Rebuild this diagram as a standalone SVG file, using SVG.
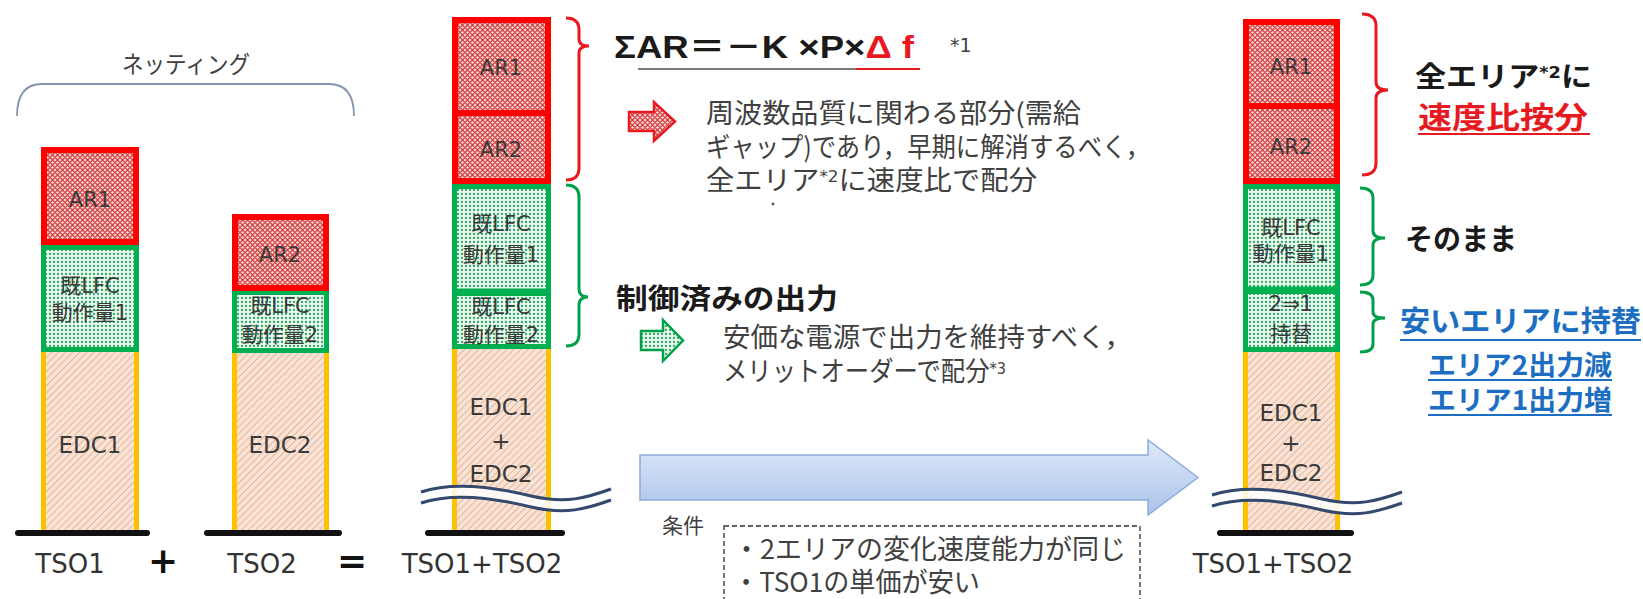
<svg xmlns="http://www.w3.org/2000/svg" width="1643" height="599" viewBox="0 0 1643 599">
<style>
.bx{font-family:"DejaVu Sans","Noto Sans CJK JP",sans-serif;fill:#3a3a3a;text-anchor:middle}
.jp{font-family:"Noto Sans CJK JP",sans-serif;fill:#404040}
.jb{font-family:"Noto Sans CJK JP",sans-serif;font-weight:bold;fill:#1a1a1a}
.fm{font-family:"Liberation Sans","Noto Sans CJK JP",sans-serif;font-weight:bold;fill:#1a1a1a}
.sm{font-family:"DejaVu Sans",sans-serif;fill:#404040;font-size:16px}
.sup{font-family:"DejaVu Sans",sans-serif}
.lb{font-family:"DejaVu Sans","Noto Sans CJK JP",sans-serif;fill:#333;font-size:26px;text-anchor:middle}
.ar{stroke:#f00;stroke-width:6;fill:url(#pAR)}
.lfc{stroke:#00b050;stroke-width:5;fill:url(#pLFC)}
.edc{fill:url(#pEDC)}
.ysd{stroke:#ffc000;stroke-width:5}
.base{stroke:#111;stroke-width:6;stroke-linecap:round}
.brR{fill:none;stroke:#e8191f;stroke-width:3}
.brG{fill:none;stroke:#00a04a;stroke-width:3}
.wvw{fill:none;stroke:#fff;stroke-width:9;opacity:0.85}
.wvl{fill:none;stroke:#34496e;stroke-width:3}
.blue{font-family:"Noto Sans CJK JP",sans-serif;font-weight:bold;fill:#1b6ec2}
.ulB{stroke:#1b6ec2;stroke-width:2}
</style>
<defs>
<pattern id="pAR" width="5" height="5" patternUnits="userSpaceOnUse">
<rect width="5" height="5" fill="#f9d2d2"/>
<path d="M0 2.5 L2.5 0 L5 2.5 L2.5 5 Z" fill="none" stroke="#d23a3a" stroke-width="1.1"/>
</pattern>
<pattern id="pLFC" width="4" height="4" patternUnits="userSpaceOnUse">
<rect width="4" height="4" fill="#eaf8ef"/>
<circle cx="2" cy="2" r="1.15" fill="#2ea862"/>
</pattern>
<pattern id="pEDC" width="5" height="5" patternUnits="userSpaceOnUse" patternTransform="rotate(45)">
<rect width="5" height="5" fill="#fae3d5"/>
<line x1="0" y1="0" x2="0" y2="5" stroke="#d09876" stroke-width="1.2"/>
</pattern>
<linearGradient id="gBlue" x1="0" y1="0" x2="0" y2="1">
<stop offset="0" stop-color="#dfe9f8"/>
<stop offset="1" stop-color="#a9c3ea"/>
</linearGradient>
<path id="wave" d="M0,8 C30,-2 70,2 110,12 C145,20 165,14 190,5"/>
</defs>

<g id="netting">
<path d="M17,116 Q17,84 42,84 L329,84 Q354,84 354,116" fill="none" stroke="#8595ad" stroke-width="1.8"/>
<text class="jp" x="122" y="73" font-size="24" textLength="128" lengthAdjust="spacingAndGlyphs">ネッティング</text>
</g>

<g id="tso1">
<rect class="edc" x="41" y="352" width="98" height="178"/>
<line class="ysd" x1="43.5" y1="352" x2="43.5" y2="530"/>
<line class="ysd" x1="136.5" y1="352" x2="136.5" y2="530"/>
<rect class="lfc" x="43.5" y="247.5" width="93" height="102"/>
<rect class="ar" x="44" y="150" width="92" height="92"/>
<text class="bx" x="90" y="207" font-size="21">AR1</text>
<text class="bx" x="90" y="293" font-size="21">既LFC</text>
<text class="bx" x="90" y="320" font-size="21">動作量1</text>
<text class="bx" x="90" y="453" font-size="23">EDC1</text>
<line class="base" x1="18" y1="533" x2="147" y2="533"/>
<text class="lb" x="70" y="573">TSO1</text>
</g>

<text id="plus" x="163" y="573" font-family="DejaVu Sans" font-weight="bold" font-size="36" text-anchor="middle" fill="#111">+</text>

<g id="tso2">
<rect class="edc" x="232" y="353" width="97" height="177"/>
<line class="ysd" x1="234.5" y1="353" x2="234.5" y2="530"/>
<line class="ysd" x1="326.5" y1="353" x2="326.5" y2="530"/>
<rect class="lfc" x="234.5" y="292.5" width="92" height="58"/>
<rect class="ar" x="235" y="217" width="91" height="71"/>
<text class="bx" x="280" y="262" font-size="21">AR2</text>
<text class="bx" x="280" y="313" font-size="21">既LFC</text>
<text class="bx" x="280" y="342" font-size="21">動作量2</text>
<text class="bx" x="280" y="453" font-size="23">EDC2</text>
<line class="base" x1="207" y1="533" x2="339" y2="533"/>
<text class="lb" x="262" y="573">TSO2</text>
</g>

<text id="equals" x="352" y="573" font-family="DejaVu Sans" font-weight="bold" font-size="36" text-anchor="middle" fill="#111">=</text>

<g id="combined">
<rect class="edc" x="452" y="349" width="99" height="181"/>
<line class="ysd" x1="454.5" y1="349" x2="454.5" y2="530"/>
<line class="ysd" x1="548.5" y1="349" x2="548.5" y2="530"/>
<rect class="lfc" x="454.5" y="293.5" width="94" height="53"/>
<rect class="lfc" x="454.5" y="186.5" width="94" height="104.5"/>
<rect class="ar" x="455" y="113" width="93" height="68"/>
<rect class="ar" x="455" y="20" width="93" height="93"/>
<text class="bx" x="501" y="75" font-size="21">AR1</text>
<text class="bx" x="501" y="157" font-size="21">AR2</text>
<text class="bx" x="501" y="231" font-size="21">既LFC</text>
<text class="bx" x="501" y="262" font-size="21">動作量1</text>
<text class="bx" x="501" y="314" font-size="21">既LFC</text>
<text class="bx" x="501" y="342" font-size="21">動作量2</text>
<text class="bx" x="501" y="415" font-size="23">EDC1</text>
<text class="bx" x="501" y="449" font-size="23">+</text>
<text class="bx" x="501" y="482" font-size="23">EDC2</text>
<g transform="translate(421,484)">
<use href="#wave" class="wvw" transform="translate(0,5.5)"/>
<use href="#wave" class="wvl"/>
<use href="#wave" class="wvl" transform="translate(0,11)"/>
</g>
<line class="base" x1="428" y1="533" x2="562" y2="533"/>
<text class="lb" x="482" y="573">TSO1+TSO2</text>
</g>

<g id="result">
<rect class="edc" x="1243" y="352" width="97" height="178"/>
<line class="ysd" x1="1245.5" y1="352" x2="1245.5" y2="530"/>
<line class="ysd" x1="1337.5" y1="352" x2="1337.5" y2="530"/>
<rect class="lfc" x="1245.5" y="291.5" width="92" height="58"/>
<rect class="lfc" x="1245.5" y="186.5" width="92" height="102.5"/>
<rect class="ar" x="1246" y="106" width="91" height="75"/>
<rect class="ar" x="1246" y="22" width="91" height="84"/>
<text class="bx" x="1291" y="74" font-size="21">AR1</text>
<text class="bx" x="1291" y="154" font-size="21">AR2</text>
<text class="bx" x="1291" y="235" font-size="21">既LFC</text>
<text class="bx" x="1291" y="261" font-size="21">動作量1</text>
<text class="bx" x="1291" y="311" font-size="21">2⇒1</text>
<text class="bx" x="1291" y="341" font-size="21">持替</text>
<text class="bx" x="1291" y="421" font-size="23">EDC1</text>
<text class="bx" x="1291" y="451" font-size="23">+</text>
<text class="bx" x="1291" y="481" font-size="23">EDC2</text>
<g transform="translate(1212,487)">
<use href="#wave" class="wvw" transform="translate(0,5.5)"/>
<use href="#wave" class="wvl"/>
<use href="#wave" class="wvl" transform="translate(0,11)"/>
</g>
<line class="base" x1="1220" y1="533" x2="1351" y2="533"/>
<text class="lb" x="1273" y="573">TSO1+TSO2</text>
</g>

<g id="connectors">
<path class="brR" d="M566,18 Q579,18 579,30 L579,39 Q579,46 589,46 Q579,46 579,53 L579,168 Q579,180 566,180"/>
<path class="brG" d="M566,185 Q579,185 579,197 L579,289 Q579,297 588,297 Q579,297 579,305 L579,334 Q579,346 566,346"/>
<path class="brR" d="M1362,14 Q1376,14 1376,26 L1376,82 Q1376,90 1388,90 Q1376,90 1376,98 L1376,163 Q1376,175 1362,175"/>
<path class="brG" d="M1360,188 Q1373,188 1373,198 L1373,231 Q1373,238 1385,238 Q1373,238 1373,245 L1373,275 Q1373,285 1360,285"/>
<path class="brG" d="M1360,292 Q1373,292 1373,300 L1373,312 Q1373,318 1385,318 Q1373,318 1373,324 L1373,344 Q1373,352 1360,352"/>
<path d="M629,112 L654,112 L654,102 L675,121.5 L654,141 L654,131 L629,131 Z" fill="url(#pAR)" stroke="#e8191f" stroke-width="2.5"/>
<path d="M641,331 L663,331 L663,320 L683,340.5 L663,361 L663,350 L641,350 Z" fill="url(#pLFC)" stroke="#00a04a" stroke-width="2.5"/>
<path d="M640,455 L1148,455 L1148,440 L1198,477.5 L1148,515 L1148,500 L640,500 Z" fill="url(#gBlue)" stroke="#8faadc" stroke-width="1.5"/>
</g>

<g id="formula">
<text class="fm" x="614" y="58" font-size="32" textLength="300" lengthAdjust="spacingAndGlyphs">ΣAR＝－K ×P×<tspan fill="#e8191f">Δ f</tspan></text>
<line x1="638" y1="69" x2="856" y2="69" stroke="#7a7a7a" stroke-width="2"/>
<line x1="856" y1="69" x2="920" y2="69" stroke="#e8191f" stroke-width="2"/>
<text class="sm" x="950" y="52" style="font-size:19px">*1</text>
</g>

<g id="ar-note">
<text class="jp" x="706" y="123" font-size="27" textLength="375" lengthAdjust="spacingAndGlyphs">周波数品質に関わる部分(需給</text>
<text class="jp" x="706" y="157" font-size="27" textLength="444" lengthAdjust="spacingAndGlyphs">ギャップ)であり，早期に解消するべく，</text>
<text class="jp" x="706" y="190" font-size="27" textLength="331" lengthAdjust="spacingAndGlyphs">全エリア<tspan class="sup" font-size="16" dy="-8">*2</tspan><tspan dy="8">に速度比で配分</tspan></text>
<circle cx="773" cy="204" r="1.4" fill="#555"/>
</g>

<g id="lfc-note">
<text class="jb" x="616" y="309" font-size="28" textLength="222" lengthAdjust="spacingAndGlyphs">制御済みの出力</text>
<text class="jp" x="723" y="347" font-size="27" textLength="409" lengthAdjust="spacingAndGlyphs">安価な電源で出力を維持すべく，</text>
<text class="jp" x="723" y="381" font-size="27" textLength="283" lengthAdjust="spacingAndGlyphs">メリットオーダーで配分<tspan class="sup" font-size="16" dy="-7">*3</tspan></text>
</g>

<g id="conditions">
<text class="jp" x="662" y="533" font-size="21">条件</text>
<rect x="724" y="526" width="416" height="90" fill="none" stroke="#333" stroke-width="1.3" stroke-dasharray="5 3"/>
<text class="jp" x="733" y="559" font-size="27" textLength="393" lengthAdjust="spacingAndGlyphs">・2エリアの変化速度能力が同じ</text>
<text class="jp" x="733" y="592" font-size="27" textLength="247" lengthAdjust="spacingAndGlyphs">・TSO1の単価が安い</text>
</g>

<g id="result-notes">
<text class="jb" x="1415" y="87" font-size="28" textLength="177" lengthAdjust="spacingAndGlyphs">全エリア<tspan class="sup" font-size="16" dy="-9">*2</tspan><tspan dy="9">に</tspan></text>
<text class="jb" x="1418" y="128" font-size="30" textLength="170" lengthAdjust="spacingAndGlyphs" style="fill:#e8191f">速度比按分</text>
<line x1="1418" y1="134" x2="1590" y2="134" stroke="#e8191f" stroke-width="2"/>
<text class="jb" x="1405" y="250" font-size="29" textLength="112" lengthAdjust="spacingAndGlyphs">そのまま</text>
<text class="blue" x="1400" y="332" font-size="29" textLength="241" lengthAdjust="spacingAndGlyphs">安いエリアに持替</text>
<line class="ulB" x1="1400" y1="340" x2="1641" y2="340"/>
<text class="blue" x="1428" y="375" font-size="27" textLength="184" lengthAdjust="spacingAndGlyphs">エリア2出力減</text>
<line class="ulB" x1="1428" y1="380" x2="1612" y2="380"/>
<text class="blue" x="1428" y="410" font-size="27" textLength="184" lengthAdjust="spacingAndGlyphs">エリア1出力増</text>
<line class="ulB" x1="1428" y1="415" x2="1612" y2="415"/>
</g>
</svg>
